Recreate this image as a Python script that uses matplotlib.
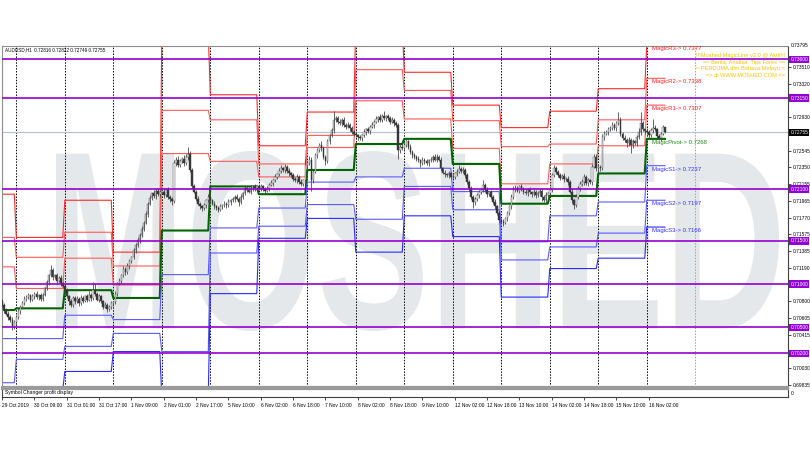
import numpy as np
import matplotlib
matplotlib.use("Agg")
import matplotlib.pyplot as plt
from matplotlib.textpath import TextPath
from matplotlib.patches import PathPatch
from matplotlib.font_manager import FontProperties
from matplotlib.transforms import Affine2D, blended_transform_factory

plt.rcParams['font.family'] = ['Liberation Sans', 'DejaVu Sans']

# AUDUSD H1 closes in pips (x 0.0001), one row per trading day
closes = [
    7076, 7070, 7066, 7062, 7058, 7050, 7056,
    7062, 7069, 7074, 7078, 7083, 7085, 7087, 7082, 7086, 7089, 7085, 7087, 7083, 7088, 7095, 7102, 7110, 7116, 7108, 7110, 7104, 7107, 7101, 7098,
    7092, 7086, 7080, 7076, 7084, 7080, 7083, 7078, 7084, 7081, 7086, 7082, 7088, 7084, 7093, 7089, 7082, 7086, 7080, 7074, 7076, 7071, 7074, 7078,
    7079, 7089, 7101, 7104, 7110, 7118, 7114, 7121, 7127, 7131, 7139, 7145, 7151, 7157, 7164, 7171, 7181, 7193, 7200, 7205, 7202, 7208, 7204, 7207,
    7207, 7203, 7209, 7201, 7198, 7196, 7240, 7244, 7238, 7242, 7245, 7240, 7247, 7251, 7232, 7213, 7207, 7199, 7193, 7190, 7188, 7191, 7197, 7201,
    7197, 7193, 7190, 7188, 7186, 7190, 7191, 7193, 7191, 7195, 7197, 7198, 7201, 7199, 7195, 7201, 7205, 7211, 7209, 7207, 7210, 7213, 7211, 7213,
    7211, 7213, 7210, 7208, 7211, 7215, 7217, 7220, 7224, 7227, 7231, 7234, 7232, 7236, 7231, 7228, 7226, 7222, 7220, 7224, 7218, 7216, 7220, 7238,
    7240, 7244, 7220, 7230, 7249, 7255, 7261, 7257, 7247, 7242, 7265, 7272, 7278, 7290, 7292, 7288, 7286, 7290, 7284, 7282, 7284, 7280, 7276, 7274,
    7272, 7270, 7269, 7272, 7276, 7279, 7277, 7282, 7284, 7288, 7291, 7293, 7290, 7294, 7292, 7294, 7292, 7288, 7290, 7286, 7284, 7255, 7259, 7257,
    7261, 7265, 7259, 7253, 7249, 7247, 7245, 7243, 7240, 7244, 7242, 7240, 7243, 7244, 7247, 7244, 7247, 7244, 7234, 7229, 7227, 7226, 7228, 7224,
    7224, 7228, 7230, 7233, 7231, 7232, 7226, 7218, 7211, 7201, 7195, 7198, 7203, 7206, 7209, 7215, 7209, 7204, 7206, 7201, 7195, 7190, 7182, 7174,
    7172, 7171, 7176, 7182, 7190, 7201, 7209, 7211, 7208, 7213, 7210, 7207, 7205, 7209, 7206, 7204, 7207, 7203, 7205, 7208, 7201, 7197, 7203, 7205,
    7209, 7226, 7234, 7230, 7226, 7223, 7225, 7221, 7222, 7218, 7207, 7197, 7192, 7201, 7211, 7216, 7218, 7224, 7217, 7220, 7218, 7236, 7247, 7234,
    7236, 7234, 7270, 7274, 7276, 7279, 7281, 7284, 7280, 7286, 7290, 7274, 7269, 7267, 7263, 7267, 7261, 7265, 7263, 7270, 7276, 7286, 7279, 7277,
    7276, 7272, 7278, 7281, 7279, 7271, 7269, 7274, 7281.6, 7275.5,
]
first_open = 7080

# wick lengths above / below the body, pips
wick_up = [
    3, 2, 2, 3, 2, 4, 3,
    2, 3, 2, 2, 3, 2, 3, 2, 3, 2, 3, 2, 3, 2, 2, 3, 2, 6, 3, 2, 3, 2, 3, 2,
    2, 3, 2, 3, 2, 2, 3, 2, 3, 2, 2, 3, 4, 2, 10, 8, 2, 3, 2, 2, 3, 2, 2, 3,
    2, 3, 2, 3, 2, 3, 2, 3, 2, 2, 3, 2, 3, 2, 3, 2, 3, 2, 3, 2, 4, 2, 3, 2,
    3, 4, 2, 3, 2, 3, 4, 3, 4, 3, 2, 4, 3, 8, 3, 2, 3, 2, 3, 2, 2, 3, 2, 3,
    3, 2, 3, 2, 2, 3, 2, 3, 2, 3, 2, 3, 2, 3, 2, 3, 2, 3, 2, 3, 5, 2, 3, 2,
    2, 3, 2, 2, 3, 2, 3, 2, 3, 2, 3, 4, 2, 3, 2, 3, 2, 3, 2, 3, 2, 3, 2, 7,
    3, 4, 3, 2, 3, 3, 2, 4, 3, 2, 3, 2, 3, 10, 3, 2, 3, 2, 3, 2, 3, 2, 3, 2,
    3, 2, 3, 2, 3, 2, 3, 2, 3, 2, 3, 2, 4, 3, 6, 2, 3, 2, 3, 2, 3, 2, 4, 3,
    4, 3, 2, 3, 2, 3, 2, 3, 2, 3, 2, 3, 2, 3, 2, 3, 4, 2, 3, 2, 3, 2, 3, 2,
    3, 2, 3, 5, 2, 3, 2, 3, 2, 3, 2, 3, 2, 3, 2, 5, 2, 3, 2, 3, 2, 3, 2, 2,
    2, 3, 2, 3, 2, 3, 5, 4, 3, 2, 3, 2, 3, 2, 3, 2, 3, 2, 3, 2, 3, 2, 3, 2,
    3, 2, 4, 3, 2, 3, 2, 3, 2, 3, 2, 3, 2, 3, 2, 3, 4, 3, 2, 3, 2, 3, 4, 3,
    3, 2, 4, 3, 2, 3, 2, 3, 2, 3, 9, 3, 2, 3, 2, 3, 2, 3, 2, 3, 4, 13, 3, 2,
    3, 2, 3, 10, 3, 2, 3, 2, 3, 0.6,
]
wick_dn = [
    2, 3, 2, 3, 2, 3, 2,
    3, 2, 3, 2, 2, 3, 2, 3, 2, 3, 2, 3, 2, 3, 2, 2, 3, 2, 3, 2, 3, 2, 3, 2,
    3, 2, 4, 3, 2, 3, 2, 3, 2, 3, 2, 3, 2, 3, 2, 3, 2, 3, 2, 3, 2, 3, 2, 3,
    3, 2, 3, 2, 3, 2, 3, 2, 3, 2, 2, 3, 2, 3, 2, 3, 2, 3, 2, 3, 2, 3, 2, 3,
    2, 3, 2, 3, 3, 5, 2, 3, 2, 3, 2, 3, 2, 3, 2, 3, 2, 3, 2, 3, 3, 2, 3, 2,
    3, 2, 3, 2, 3, 2, 3, 2, 3, 2, 3, 2, 3, 2, 5, 2, 3, 2, 3, 2, 3, 2, 3, 2,
    2, 3, 2, 3, 2, 3, 2, 3, 2, 3, 2, 3, 2, 3, 2, 3, 2, 3, 2, 3, 2, 3, 2, 3,
    3, 2, 12, 3, 2, 3, 2, 3, 2, 4, 2, 3, 2, 3, 2, 3, 2, 3, 2, 3, 2, 3, 2, 3,
    2, 3, 2, 3, 2, 3, 2, 3, 2, 3, 2, 3, 2, 3, 2, 3, 2, 3, 2, 3, 2, 10, 3, 2,
    3, 2, 3, 2, 3, 2, 3, 2, 4, 2, 3, 2, 3, 2, 3, 2, 3, 2, 3, 2, 3, 2, 3, 2,
    3, 2, 3, 2, 3, 2, 3, 2, 3, 2, 7, 3, 2, 3, 2, 3, 2, 3, 2, 3, 2, 3, 2, 3,
    3, 4, 2, 3, 2, 3, 2, 3, 2, 3, 2, 3, 2, 3, 2, 3, 2, 3, 2, 3, 5, 2, 3, 2,
    2, 3, 2, 3, 2, 3, 2, 3, 2, 3, 2, 3, 5, 3, 2, 3, 2, 3, 2, 3, 2, 3, 2, 3,
    5, 3, 2, 3, 2, 3, 2, 3, 2, 3, 2, 3, 2, 3, 4, 3, 9, 3, 2, 3, 2, 3, 2, 3,
    2, 3, 2, 3, 2, 3, 2, 3, 2, 0.6,
]

# bars per day (first and last day are partial)
day_bars = [7] + [24] * 13 + [10]

# daily MagicLine pivot levels
piv_r3 = [0.7204, 0.7154, 0.7197, 0.7137, 0.7391, 0.7319, 0.7260, 0.7299, 0.7400, 0.7345, 0.7307, 0.7281, 0.7300, 0.7326, 0.7377]
piv_r2 = [0.7154, 0.7131, 0.7160, 0.7121, 0.7301, 0.7290, 0.7239, 0.7272, 0.7348, 0.7324, 0.7289, 0.7259, 0.7262, 0.7290, 0.7338]
piv_r1 = [0.7120, 0.7095, 0.7130, 0.7099, 0.7251, 0.7242, 0.7224, 0.7258, 0.7312, 0.7291, 0.7257, 0.7216, 0.7239, 0.7260, 0.7307]
piv_p = [0.7070, 0.7072, 0.7093, 0.7084, 0.7162, 0.7213, 0.7204, 0.7232, 0.7262, 0.7268, 0.7239, 0.7193, 0.7202, 0.7228, 0.7268]
piv_s1 = [0.7037, 0.7037, 0.7064, 0.7059, 0.7111, 0.7165, 0.7188, 0.7218, 0.7224, 0.7234, 0.7207, 0.7149, 0.7179, 0.7195, 0.7237]
piv_s2 = [0.6986, 0.7013, 0.7028, 0.7043, 0.7022, 0.7136, 0.7167, 0.7192, 0.7175, 0.7213, 0.7186, 0.7128, 0.7143, 0.7159, 0.7197]
piv_s3 = [0.6953, 0.6978, 0.6999, 0.7022, 0.6971, 0.7089, 0.7153, 0.7176, 0.7137, 0.7179, 0.7155, 0.7085, 0.7118, 0.7130, 0.7166]

magic_names = ["MagicR3", "MagicR2", "MagicR1", "MagicPivot", "MagicS1", "MagicS2", "MagicS3"]

h_levels = [0.7360, 0.7315, 0.7210, 0.7150, 0.7100, 0.7050, 0.7020]
last_price = 0.72755
y_ticks = [0.73510, 0.73320, 0.72930, 0.72545, 0.72350, 0.72155, 0.71965, 0.71770, 0.71575,
           0.71385, 0.71190, 0.70800, 0.70605, 0.70415, 0.70030, 0.69835]
top_price = 0.73795

x_labels = ["29 Oct 2019", "30 Oct 09:00", "31 Oct 01:00", "31 Oct 17:00", "1 Nov 09:00",
            "2 Nov 01:00", "2 Nov 17:00", "5 Nov 10:00", "6 Nov 02:00", "6 Nov 18:00",
            "7 Nov 10:00", "8 Nov 02:00", "8 Nov 18:00", "9 Nov 10:00", "12 Nov 02:00",
            "12 Nov 18:00", "13 Nov 10:00", "14 Nov 02:00", "14 Nov 18:00", "15 Nov 10:00",
            "16 Nov 02:00"]

banner = ["!!!Moshed MagicLine v2.0 @ Aktif!!!",
          "== Berita, Analisa, Tips Forex ==",
          "= PERCUMA dlm Bahasa Melayu =",
          "=> di WWW.MOSHED.COM <="]

# ---------------------------------------------------------------
W, H = 810, 450
fig = plt.figure(figsize=(W / 100, H / 100), dpi=100)
fig.patch.set_facecolor("white")

def fx(px):
    return px / W

def fy(py):
    return 1 - py / H

ax = fig.add_axes([fx(1.5), fy(387), fx(786.5), (387 - 45.7) / H])
sub = fig.add_axes([fx(1.5), fy(397), fx(786.5), (397 - 388.5) / H], sharex=ax)

c = np.array(closes, dtype=float) / 1e4
o = np.concatenate([[first_open / 1e4], c[:-1]])
hi = np.maximum(o, c) + np.array(wick_up) / 1e4
lo = np.minimum(o, c) - np.array(wick_dn) / 1e4
n = len(c)
x = np.arange(n)

ax.set_xlim(-0.33, 388.9)
ax.set_ylim(0.698103, 0.737573)

# watermark
tp = TextPath((0, 0), "MOSHED", size=100, prop=FontProperties(family="Liberation Sans", weight="bold"))
bb = tp.get_extents()
wm_tr = (Affine2D().translate(-bb.x0, -bb.y0).scale(723 / bb.width, 180 / bb.height)
         .translate(56, H - 331).scale(1 / W, 1 / H) + fig.transFigure)
wm = PathPatch(tp, transform=wm_tr, facecolor="#e5e8eb", edgecolor="none", zorder=0.3)
ax.add_patch(wm)

# day separators
day_starts = np.cumsum(day_bars)[:-1]
for d in day_starts:
    ax.axvline(d, color="black", lw=0.7, ls=(0, (1.5, 1.5)), zorder=1)
ax.axvline(day_starts[-1] + 24, color="#a0a0a0", lw=0.7, ls=(0, (1.5, 1.5)), zorder=1)

# current price line
ax.axhline(last_price, color="#b8c0cc", lw=0.8, zorder=1.2)

# pivot lines
levels = [piv_r3, piv_r2, piv_r1, piv_p, piv_s1, piv_s2, piv_s3]
colors = ["#ff2a2a", "#ff5a5a", "#ff5a5a", "#006400", "#5a5aff", "#5a5aff", "#2a2aff"]
widths = [0.8, 0.8, 0.8, 1.5, 0.8, 0.8, 0.8]
for lev, col, lw in zip(levels, colors, widths):
    series = np.repeat(lev, day_bars)
    ax.plot(x, series, color=col, lw=lw, zorder=2)

# candles
up = c >= o
ax.vlines(x, lo, hi, color="#4a4a4a", lw=0.6, zorder=3)
body_h = np.maximum(np.abs(c - o), 0.00003)
ax.bar(x[up], body_h[up], bottom=np.minimum(o, c)[up], width=0.75,
       color="#f0f0f0", edgecolor="#505050", lw=0.3, zorder=3.1)
ax.bar(x[~up], body_h[~up], bottom=np.minimum(o, c)[~up], width=0.75,
       color="#3a3a3a", edgecolor="#303030", lw=0.3, zorder=3.1)

# horizontal purple levels
for v in h_levels:
    ax.axhline(v, color="#9400d3", lw=1.2, zorder=3.5)

# magic labels for the current day
lab_x = 321.6
lab_cols = ["#ff2020", "#ff2020", "#ff2020", "#1a8a1a", "#3030ff", "#3030ff", "#3030ff"]
for name, lev, col in zip(magic_names, levels, lab_cols):
    ax.text(lab_x, lev[-1] - 0.00012, f"{name}-> {lev[-1]:.4f}", color=col,
            fontsize=4.3, va="top", ha="left", zorder=5)

# right price axis
ax.yaxis.tick_right()
ax.set_yticks(y_ticks)
ax.set_yticklabels([f"{v:.5f}" for v in y_ticks])
ax.tick_params(axis="y", labelsize=3.5, length=2, width=0.5, pad=1.5, colors="black")
ax.tick_params(axis="x", bottom=False, labelbottom=False)
ax.text(1.004, 1.0, f"{top_price:.5f}", transform=ax.transAxes, fontsize=3.5, va="center", ha="left")

btr = blended_transform_factory(ax.transAxes, ax.transData)
for v in h_levels:
    ax.text(1.003, v, f"{v:.5f}", transform=btr, fontsize=3.5, color="white", va="center", ha="left",
            bbox=dict(boxstyle="square,pad=0.25", facecolor="#9400d3", edgecolor="none"), zorder=6, clip_on=False)
ax.text(1.003, last_price, f"{last_price:.5f}", transform=btr, fontsize=3.5, color="white", va="center", ha="left",
        bbox=dict(boxstyle="square,pad=0.25", facecolor="black", edgecolor="none"), zorder=6, clip_on=False)

for sp in ["top", "left"]:
    ax.spines[sp].set_color("#8c8c8c")
    ax.spines[sp].set_linewidth(0.8)
ax.spines["right"].set_color("#404040")
ax.spines["right"].set_linewidth(0.8)
ax.spines["bottom"].set_color("#9a9a9a")
ax.spines["bottom"].set_linewidth(1.6)

# sub window
sub.set_ylim(0, 1)
sub.set_yticks([])
sub.set_xticks(np.arange(len(x_labels)) * 16)
sub.set_xticklabels(x_labels, ha="left")
sub.tick_params(axis="x", labelsize=3.5, length=2, width=0.5, pad=2.5)
sub.spines["top"].set_color("#9a9a9a")
sub.spines["top"].set_linewidth(1.6)
for sp in ["left", "bottom", "right"]:
    sub.spines[sp].set_color("#404040")
    sub.spines[sp].set_linewidth(0.8)
sub.text(0.004, 0.5, "Symbol Changer profit display", transform=sub.transAxes,
         fontsize=3.6, va="center", ha="left")
sub.text(1.004, 0.45, "0", transform=sub.transAxes, fontsize=3.5, va="center", ha="left")

# chart headers
fig.text(fx(5), fy(50), "AUDUSD,H1  0.72816 0.72822 0.72749 0.72755", fontsize=3.3, va="center", ha="left")
for k, line in enumerate(banner):
    fig.text(fx(785), fy(56 + 6.4 * k), line, fontsize=4.1, color="#f2c200", va="center", ha="right", zorder=7)

fig.savefig("out.png", dpi=100)
